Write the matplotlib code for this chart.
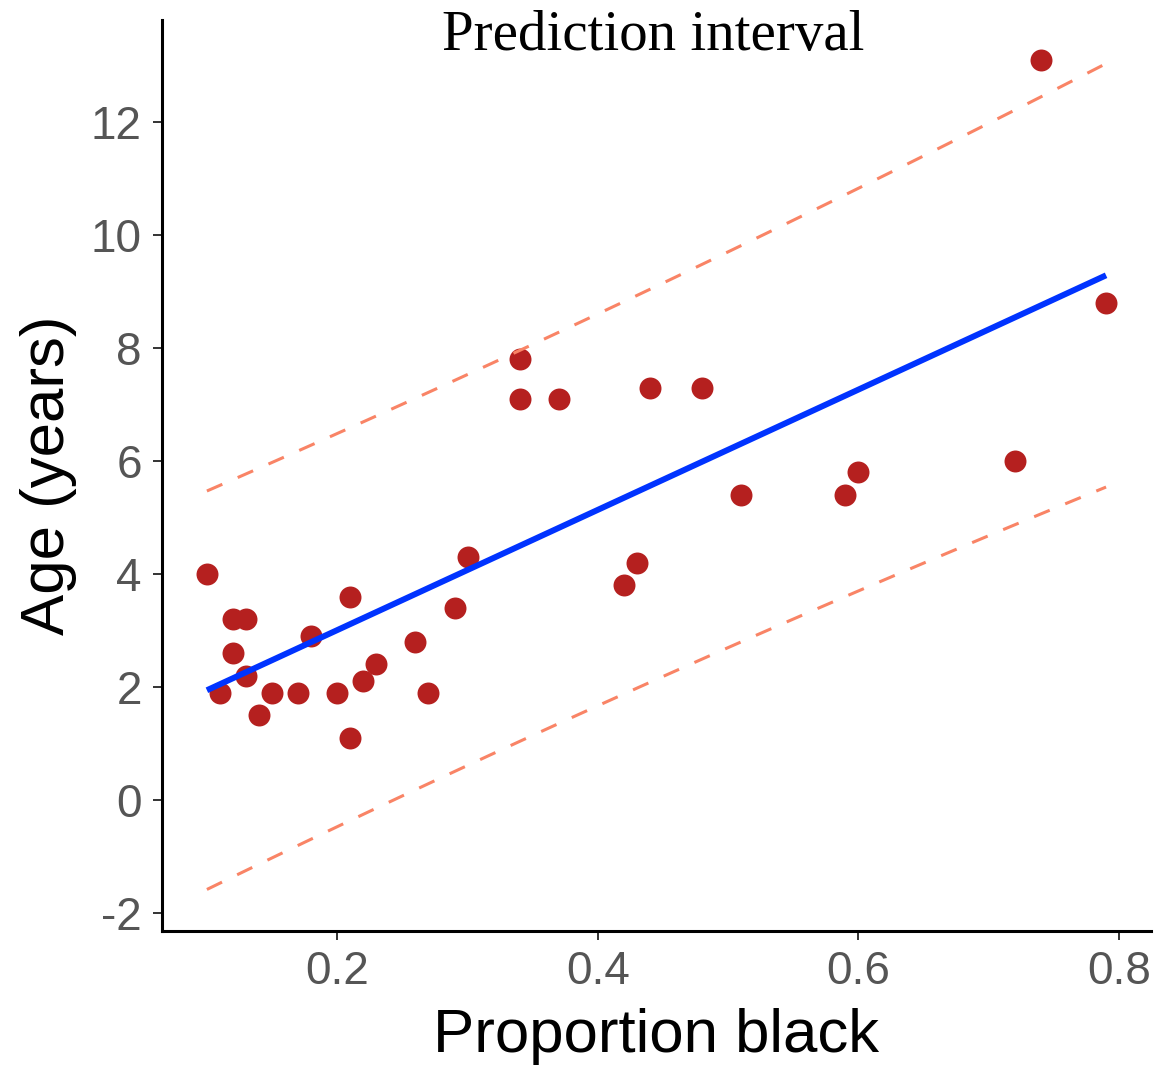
import numpy as np
import matplotlib
matplotlib.use("Agg")
import matplotlib.pyplot as plt

plt.rcParams['axes.unicode_minus'] = False
plt.rcParams['font.family'] = ['Liberation Sans', 'DejaVu Sans']

# lion noses: proportion black vs age
prop_black = [0.10, 0.11, 0.12, 0.13, 0.12, 0.13, 0.14, 0.15, 0.17, 0.18,
              0.20, 0.21, 0.21, 0.22, 0.23, 0.26, 0.27, 0.29, 0.30, 0.34,
              0.34, 0.37, 0.42, 0.43, 0.44, 0.48, 0.51, 0.59, 0.60, 0.72,
              0.74, 0.79]
age_years = [4.0, 1.9, 3.2, 3.2, 2.6, 2.2, 1.5, 1.9, 1.9, 2.9,
             1.9, 3.6, 1.1, 2.1, 2.4, 2.8, 1.9, 3.4, 4.3, 7.8,
             7.1, 7.1, 3.8, 4.2, 7.3, 7.3, 5.4, 5.4, 5.8, 6.0,
             13.1, 8.8]

x_ticks = [0.2, 0.4, 0.6, 0.8]
y_ticks = [-2, 0, 2, 4, 6, 8, 10, 12]

# least squares fit + 95% prediction interval (t for df=30)
x = np.array(prop_black)
y = np.array(age_years)
n = len(x)
slope, intercept = np.polyfit(x, y, 1)
resid = y - (intercept + slope * x)
s = np.sqrt(np.sum(resid ** 2) / (n - 2))
sxx = np.sum((x - x.mean()) ** 2)
t_crit = 2.042
xs = np.linspace(x.min(), x.max(), 80)
fit = intercept + slope * xs
half = t_crit * s * np.sqrt(1 + 1 / n + (xs - x.mean()) ** 2 / sxx)

fig = plt.figure(figsize=(11.56, 10.66), dpi=100)
ax = fig.add_axes([0.1401, 0.1266, 0.8556, 0.8546])

ax.scatter(prop_black, age_years, s=250, color='#B5201F', linewidths=0, zorder=2)
ax.plot(xs, fit, color='#0033FF', lw=4.3, solid_capstyle='butt', zorder=3)
ax.plot(xs, fit + half, color='#F98466', lw=2.2, dashes=[5.5, 5.5], zorder=3)
ax.plot(xs, fit - half, color='#F98466', lw=2.2, dashes=[5.5, 5.5], zorder=3)

ax.set_xlim(0.0655, 0.8245)
ax.set_ylim(-2.32, 13.81)
ax.set_xticks(x_ticks)
ax.set_xticklabels([str(v) for v in x_ticks])
ax.set_yticks(y_ticks)
ax.set_yticklabels([str(v) for v in y_ticks])

for side in ['top', 'right']:
    ax.spines[side].set_visible(False)
for side in ['left', 'bottom']:
    ax.spines[side].set_linewidth(2.2)
    ax.spines[side].set_color('black')

ax.tick_params(axis='both', length=6.5, width=1.4, color='#333333',
               labelsize=33, labelcolor='#555555')
ax.tick_params(axis='x', pad=7)
ax.tick_params(axis='y', pad=8)

ax.set_xlabel('Proportion black', fontsize=44.5, labelpad=10)
ax.set_ylabel('Age (years)', fontsize=44.5, labelpad=10)

ax.text(0.497, 0.967, 'Prediction interval', transform=ax.transAxes,
        ha='center', va='baseline', fontsize=41, family='Liberation Serif')

fig.savefig('out.png', dpi=100)
